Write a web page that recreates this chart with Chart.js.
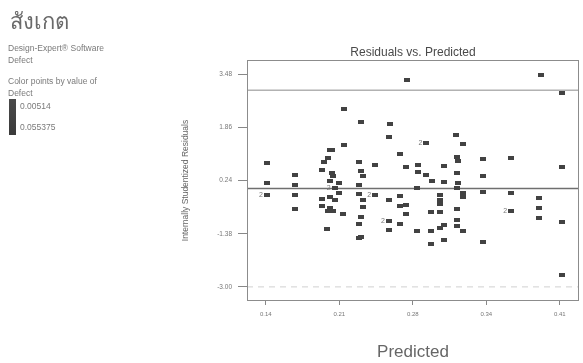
<!DOCTYPE html>
<html>
<head>
<meta charset="utf-8">
<script src="https://cdn.jsdelivr.net/npm/chart.js@4/dist/chart.umd.min.js"></script>
<style>
  body { margin: 0; background: #fff; font-family: "Liberation Sans", Arial, sans-serif; }
  #wrap { position: relative; width: 583px; height: 363px; }
  #residualChart { position: absolute; left: 0; top: 0; }
  .side { position: absolute; color: #7a7a7a; font-size: 8.5px; line-height: 12px; white-space: nowrap; }
  #heading { position: absolute; left: 10px; top: 4px; font-family: "Noto Sans", "DejaVu Sans", sans-serif; font-size: 22px; color: #6a6a6a; }
  #colorBar { position: absolute; left: 9px; top: 99px; width: 7px; height: 36px; background: linear-gradient(#4a4a4a, #3a3a3a); }
</style>
</head>
<body>
<div id="wrap">
  <canvas id="residualChart" width="583" height="363"></canvas>
  <div id="heading">สังเกต</div>
  <div class="side" style="left:8px; top:42px;">Design-Expert® Software<br>Defect</div>
  <div class="side" style="left:8px; top:75px;">Color points by value of<br>Defect</div>
  <div id="colorBar"></div>
  <div class="side" style="left:20px; top:100px;">0.00514</div>
  <div class="side" style="left:20px; top:121px;">0.055375</div>
</div>
<script>
// predicted values (x) and internally studentized residuals (y)
const predicted = [
    0.2698, 0.3926, 0.4124, 0.2122, 0.2274, 0.2537, 0.2531, 0.3144, 0.3214, 0.2874,
    0.1985, 0.2010, 0.2115, 0.1970, 0.2631, 0.3153, 0.3396, 0.3653,
    0.1409, 0.1409, 0.1409, 0.1667, 0.1667, 0.1667, 0.1667,
    0.1931, 0.1919, 0.2006, 0.2015, 0.1985, 0.2070, 0.2031, 0.2070, 0.1919, 0.1985,
    0.2031, 0.1919, 0.1985, 0.1970, 0.2015, 0.2113, 0.1961,
    0.2252, 0.2274, 0.2288, 0.2252, 0.2252, 0.2288, 0.2288, 0.2274, 0.2252, 0.2274, 0.2252,
    0.2404, 0.2404, 0.2531, 0.2531, 0.2531,
    0.2689, 0.2631, 0.2631, 0.2689, 0.2689, 0.2631,
    0.2795, 0.2795, 0.2789, 0.2789,
    0.2874, 0.2925, 0.3032, 0.3032, 0.3002, 0.3002, 0.3002, 0.2916, 0.3002, 0.3032,
    0.3002, 0.2916, 0.3032, 0.2916,
    0.3162, 0.3153, 0.3168, 0.3153, 0.3214, 0.3214, 0.3153, 0.3153, 0.3153, 0.3214,
    0.3396, 0.3396, 0.3396,
    0.3653, 0.3653,
    0.3912, 0.3912, 0.3912,
    0.4117, 0.4117, 0.4117
];
const residuals = [
    3.318, 3.459, 2.900, 2.420, 2.044, 1.982, 1.564, 1.625, 1.350, 1.380,
    1.188, 1.188, 1.340, 0.934, 1.056, 0.965, 0.913, 0.934,
    0.781, 0.170, -0.209, 0.402, 0.096, -0.209, -0.616,
    0.799, 0.576, 0.475, 0.393, 0.219, 0.170, 0.017, -0.136, -0.319, -0.258,
    -0.362, -0.546, -0.595, -0.677, -0.699, -0.778, -1.227,
    0.799, 0.524, 0.371, 0.096, -0.167, -0.341, -0.576, -0.882, -1.075, -1.481, -1.512,
    0.729, -0.209, -0.341, -1.004, -1.258,
    0.647, -0.219, -0.546, -0.494, -0.778, -1.075,
    0.729, 0.506, 0.017, -1.310,
    0.402, 0.219, 0.200, 0.677, -0.209, -0.341, -0.463, -0.717, -0.717, -1.105,
    -1.206, -1.310, -1.564, -1.695,
    0.830, 0.475, 0.170, 0.017, -0.136, -0.258, -0.625, -0.952, -1.157, -1.310,
    0.371, -0.105, -1.616,
    -0.136, -0.677,
    -0.289, -0.595, -0.900,
    0.659, -1.022, -2.624
];
// points that stand for two runs (marked "2" in the plot)
const doubledPoints = [9, 20, 31, 54, 56, 96];

const xTickValues = [0.14, 0.2075, 0.275, 0.3425, 0.41];
const xTickLabels = ['0.14', '0.21', '0.28', '0.34', '0.41'];
const yTickValues = [3.48, 1.86, 0.24, -1.38, -3.00];
const yTickLabels = ['3.48', '1.86', '0.24', '-1.38', '-3.00'];
const limitLines = [3.0, 0, -3.0];

const xMin = 0.1227, xMax = 0.4276;
const yMin = -3.43, yMax = 3.92;

// small dark rectangle used as marker
const marker = document.createElement('canvas');
marker.width = 6; marker.height = 4;
const mctx = marker.getContext('2d');
mctx.fillStyle = '#424242';
mctx.fillRect(0, 0, 6, 4);

const points = predicted.map((p, i) => ({ x: p, y: residuals[i] }));

const lineStyles = [
    { color: '#8a8a8a', width: 1, dash: [] },
    { color: '#6f6f6f', width: 1.5, dash: [] },
    { color: '#d0d0d0', width: 1, dash: [6, 5] }
];
const lineSets = limitLines.map((v, i) => ({
    type: 'line',
    data: [{ x: xMin, y: v }, { x: xMax, y: v }],
    borderColor: lineStyles[i].color,
    borderWidth: lineStyles[i].width,
    borderDash: lineStyles[i].dash,
    pointRadius: 0,
    fill: false
}));

const framePlugin = {
    id: 'frame',
    afterDraw(chart) {
        const { ctx, chartArea: a } = chart;
        ctx.save();
        ctx.strokeStyle = '#8c8c8c';
        ctx.lineWidth = 1;
        ctx.strokeRect(a.left + 0.5, a.top + 0.5, a.right - a.left - 1, a.bottom - a.top - 1);
        // title centred over the plot frame
        ctx.fillStyle = '#4a4a4a';
        ctx.font = '12px "Liberation Sans", Arial, sans-serif';
        ctx.textAlign = 'center';
        ctx.textBaseline = 'middle';
        ctx.fillText('Residuals vs. Predicted', (a.left + a.right) / 2, a.top - 7);
        // multiplicity labels
        const meta = chart.getDatasetMeta(0);
        ctx.font = '7px "Liberation Sans", Arial, sans-serif';
        ctx.fillStyle = '#777';
        ctx.textAlign = 'right';
        doubledPoints.forEach(i => {
            const el = meta.data[i];
            ctx.fillText('2', el.x - 4, el.y);
        });
        ctx.restore();
    }
};

new Chart(document.getElementById('residualChart').getContext('2d'), {
    type: 'scatter',
    data: {
        datasets: [{
            data: points,
            pointStyle: marker,
            pointRadius: 3,
            pointHoverRadius: 3
        }, ...lineSets]
    },
    options: {
        responsive: false,
        animation: false,
        layout: { padding: { left: 180, top: 60, right: 1, bottom: 0 } },
        plugins: {
            legend: { display: false },
            tooltip: { enabled: false }
        },
        scales: {
            x: {
                type: 'linear',
                min: xMin,
                max: xMax,
                afterBuildTicks: s => { s.ticks = xTickValues.map(v => ({ value: v })); },
                afterFit: s => { s.height = 62; },
                ticks: {
                    autoSkip: false,
                    maxRotation: 0,
                    padding: 6,
                    color: '#777',
                    font: { size: 6 },
                    callback: (v) => xTickLabels[xTickValues.indexOf(v)]
                },
                grid: { drawOnChartArea: false, tickLength: 4, color: '#888' },
                border: { display: false },
                title: {
                    display: true,
                    text: 'Predicted',
                    color: '#666',
                    font: { size: 17 },
                    padding: { top: 1, bottom: 0 }
                }
            },
            y: {
                type: 'linear',
                min: yMin,
                max: yMax,
                afterBuildTicks: s => { s.ticks = yTickValues.map(v => ({ value: v })); },
                afterFit: s => { s.width = 67; },
                ticks: {
                    autoSkip: false,
                    padding: 6,
                    color: '#777',
                    font: { size: 6.5 },
                    callback: (v) => yTickLabels[yTickValues.indexOf(v)]
                },
                grid: { drawOnChartArea: false, tickLength: 9, color: '#888' },
                border: { display: false },
                title: {
                    display: true,
                    text: 'Internally Studentized Residuals',
                    color: '#666',
                    font: { size: 8.5 },
                    padding: { top: 1, bottom: 0 }
                }
            }
        }
    },
    plugins: [framePlugin]
});
</script>
</body>
</html>
